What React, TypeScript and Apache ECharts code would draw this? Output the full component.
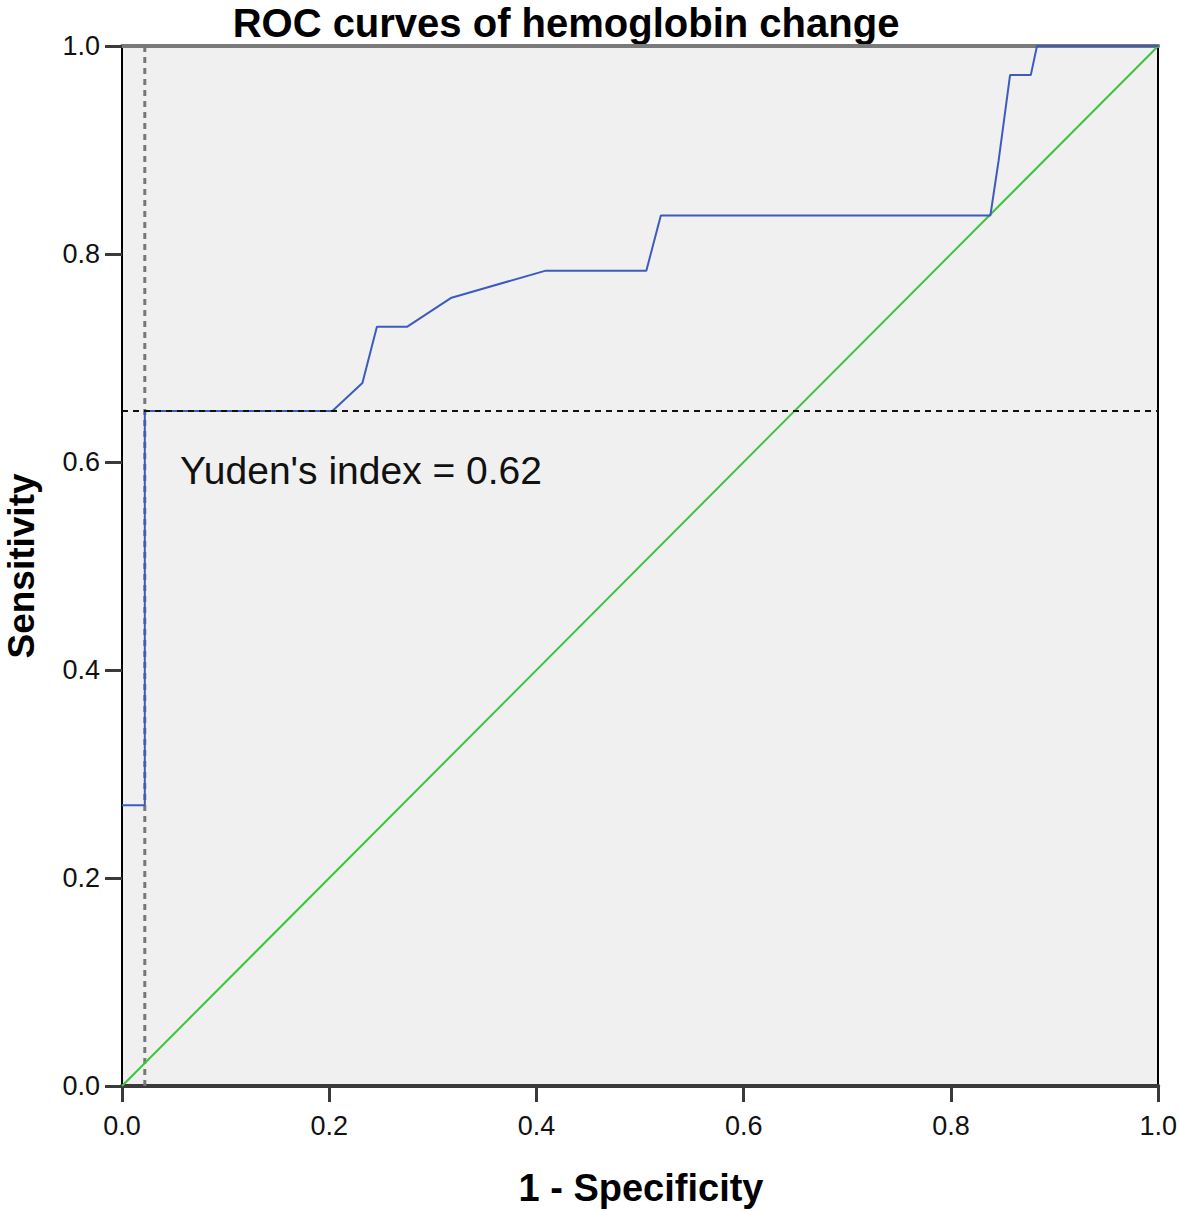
import React, { useEffect, useRef } from "react";
import * as echarts from "echarts";

const fpr = [0, 0.022, 0.022, 0.203, 0.232, 0.246, 0.275, 0.318, 0.409, 0.506, 0.52, 0.838, 0.846, 0.857, 0.877, 0.883, 1.0];
const tpr = [0.27, 0.27, 0.649, 0.649, 0.676, 0.73, 0.73, 0.758, 0.784, 0.784, 0.837, 0.837, 0.89, 0.972, 0.972, 1.0, 1.0];
const refLine = [0, 1];
const cutoffX = 0.022;
const cutoffY = 0.649;
const titleText = "ROC curves of hemoglobin change";
const xName = "1 - Specificity";
const yName = "Sensitivity";
const annotation = "Yuden's index = 0.62";

const FONT = "'Liberation Sans', Arial, sans-serif";

export default function App() {
  const ref = useRef<HTMLDivElement>(null);
  useEffect(() => {
    if (!ref.current) return;
    const chart = echarts.init(ref.current, undefined, { renderer: "svg" });
    const rocData = fpr.map((x, i) => [x, tpr[i]]);
    const diag = refLine.map((v) => [v, v]);
    const fmt = (v: number) => v.toFixed(1);
    chart.setOption({
      animation: false,
      backgroundColor: "#ffffff",
      textStyle: { fontFamily: FONT },
      grid: {
        left: 122,
        right: 20,
        top: 46,
        bottom: 126,
        show: true,
        backgroundColor: "#f0f0f0",
        borderWidth: 0,
      },
      xAxis: [
        {
          type: "value",
          min: 0,
          max: 1,
          interval: 0.2,
          position: "bottom",
          splitLine: { show: false },
          axisLine: { show: true, onZero: false, lineStyle: { color: "#3a3a3a", width: 4 } },
          axisTick: { show: true, length: 16, lineStyle: { color: "#3a3a3a", width: 3 } },
          axisLabel: { margin: 26, fontSize: 27, color: "#111", fontFamily: FONT, formatter: fmt },
        },
        {
          type: "value",
          min: 0,
          max: 1,
          position: "top",
          splitLine: { show: false },
          axisLine: { show: true, onZero: false, lineStyle: { color: "#7a7a7a", width: 4 } },
          axisTick: { show: false },
          axisLabel: { show: false },
        },
      ],
      yAxis: [
        {
          type: "value",
          min: 0,
          max: 1,
          interval: 0.2,
          position: "left",
          splitLine: { show: false },
          axisLine: { show: true, onZero: false, lineStyle: { color: "#000", width: 2 } },
          axisTick: { show: true, length: 17, lineStyle: { color: "#3a3a3a", width: 3 } },
          axisLabel: { margin: 22, fontSize: 27, color: "#111", fontFamily: FONT, formatter: fmt },
        },
        {
          type: "value",
          min: 0,
          max: 1,
          position: "right",
          splitLine: { show: false },
          axisLine: { show: true, onZero: false, lineStyle: { color: "#000", width: 2 } },
          axisTick: { show: false },
          axisLabel: { show: false },
        },
      ],
      series: [
        {
          type: "line",
          data: [[cutoffX, 0], [cutoffX, 1]],
          showSymbol: false,
          lineStyle: { color: "#777", width: 3, type: [6, 5] },
          z: 2,
        },
        {
          type: "line",
          data: diag,
          showSymbol: false,
          lineStyle: { color: "#3cc43c", width: 2 },
          z: 3,
        },
        {
          type: "line",
          data: rocData,
          showSymbol: false,
          lineStyle: { color: "#3d5bbf", width: 2 },
          z: 4,
        },
        {
          type: "line",
          data: [[0, cutoffY], [1, cutoffY]],
          showSymbol: false,
          lineStyle: { color: "#111", width: 2, type: [6, 5] },
          z: 5,
        },
      ],
      graphic: [
        {
          type: "text",
          x: 566,
          y: 23,
          style: {
            text: titleText,
            fontSize: 40,
            fontWeight: "bold",
            fontFamily: FONT,
            fill: "#000",
            textAlign: "center",
            textVerticalAlign: "middle",
          },
        },
        {
          type: "text",
          x: 641,
          y: 1188,
          style: {
            text: xName,
            fontSize: 38,
            fontWeight: "bold",
            fontFamily: FONT,
            fill: "#000",
            textAlign: "center",
            textVerticalAlign: "middle",
          },
        },
        {
          type: "text",
          x: 21,
          y: 566,
          rotation: Math.PI / 2,
          style: {
            text: yName,
            fontSize: 37,
            fontWeight: "bold",
            fontFamily: FONT,
            fill: "#000",
            textAlign: "center",
            textVerticalAlign: "middle",
          },
        },
        {
          type: "text",
          x: 180,
          y: 470,
          z: 10,
          style: {
            text: annotation,
            fontSize: 39,
            fontFamily: FONT,
            fill: "#111",
            textAlign: "left",
            textVerticalAlign: "middle",
          },
        },
      ],
    });
    return () => chart.dispose();
  }, []);
  return (
    <div
      ref={ref}
      style={{ position: "fixed", left: 0, top: 0, width: 1180, height: 1212 }}
    />
  );
}
